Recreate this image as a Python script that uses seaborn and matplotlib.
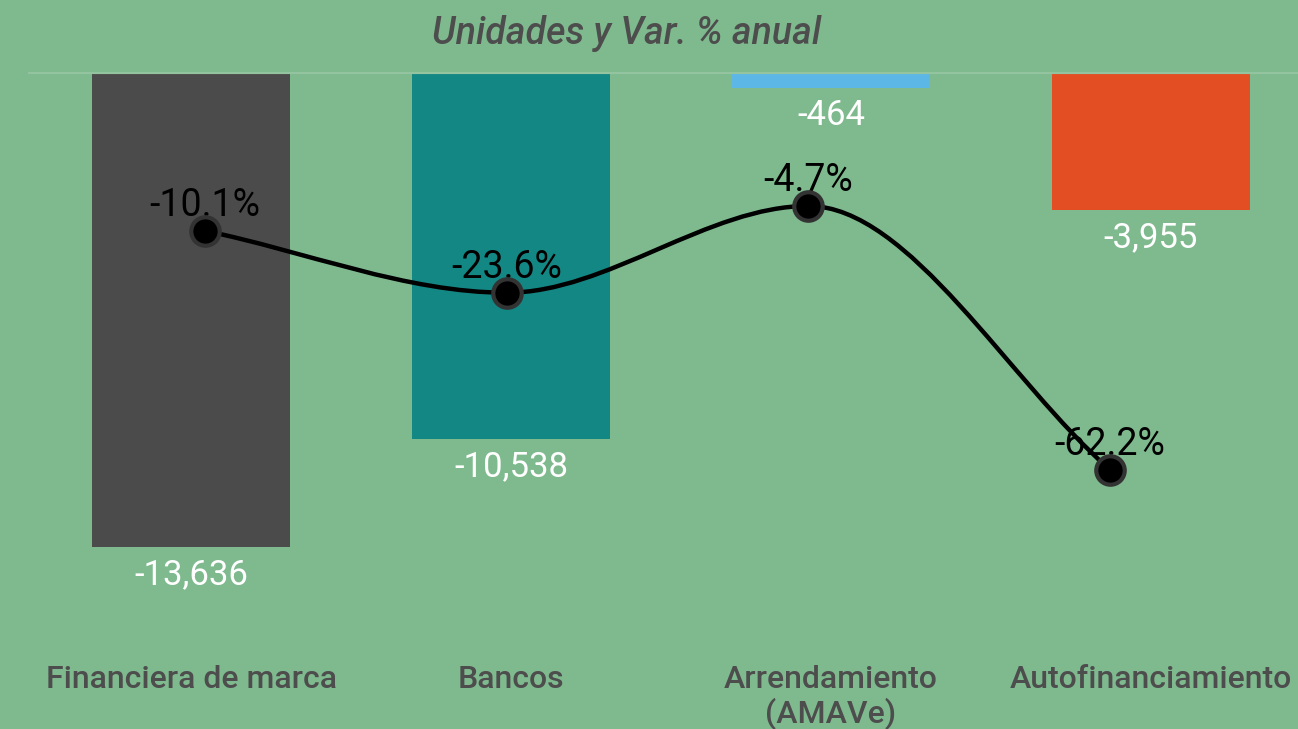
import numpy as np
import pandas as pd
import matplotlib
matplotlib.use("Agg")
import matplotlib.pyplot as plt
from matplotlib.path import Path
from matplotlib.patches import PathPatch
import seaborn as sns

# data
categorias = ["Financiera de marca", "Bancos", "Arrendamiento\n(AMAVe)", "Autofinanciamiento"]
unidades = [-13636, -10538, -464, -3955]
var_anual = [-10.1, -23.6, -4.7, -62.2]
colores = ["#4b4b4b", "#138784", "#5db7e6", "#e44e23"]
subtitulo = "Unidades y Var. % anual"

bg = "#7fba8f"
sns.set_theme(style="white")
plt.rcParams["font.family"] = ["Roboto", "DejaVu Sans"]

fig = plt.figure(figsize=(12.98, 7.29), dpi=100, facecolor=bg)
W, H = 1298, 729
# axes from px 28..1298 horizontally, 72..650 vertically
rect = [28 / W, 1 - 650 / H, 1270 / W, (650 - 72) / H]
ax = fig.add_axes(rect)
ax.set_facecolor(bg)

df = pd.DataFrame({"cat": categorias, "val": unidades})
sns.barplot(data=df, x="cat", y="val", hue="cat", palette=colores,
            width=0.62, legend=False, ax=ax, saturation=1, linewidth=0)
ax.set_xlim((28 - 191) / 320, (1298 - 191) / 320)
ax.set_ylim(-578 / 0.03484, 0)
ax.axhline(0, color="#93c49f", lw=3, zorder=5)
for s in ax.spines.values():
    s.set_visible(False)
ax.set_yticks([])
ax.set_xlabel("")
ax.set_ylabel("")
ax.tick_params(axis="x", length=0, pad=10.5)
for lab in ax.get_xticklabels():
    lab.set_fontsize(23)
    lab.set_fontweight("medium")
    lab.set_color("#4d4d4d")
    lab.set_va("top")
    lab.set_linespacing(1.15)

for i, v in enumerate(unidades):
    ax.annotate(f"{v:,}", (i, v), xytext=(0, -20), textcoords="offset points",
                ha="center", va="center", color="white", fontsize=25)

# overlay for the line (own x scale)
ax2 = fig.add_axes(rect)
ax2.patch.set_alpha(0)
ax2.set_xlim((28 - 205) / 301.7, (1298 - 205) / 301.7)
ax2.set_ylim(-(650 - 184.4) / 4.59, (184.4 - 72) / 4.59)
ax2.axis("off")

x = np.arange(len(var_anual), dtype=float)
y = np.array(var_anual)
d = np.diff(y) / np.diff(x)
m = np.zeros_like(y)
m[0], m[-1] = d[0], d[-1]
for k in range(1, len(y) - 1):
    if d[k - 1] * d[k] > 0:
        m[k] = (d[k - 1] + d[k]) / 2
verts = [(x[0], y[0])]
codes = [Path.MOVETO]
for k in range(len(y) - 1):
    h = x[k + 1] - x[k]
    verts += [(x[k] + h / 3, y[k] + m[k] * h / 3),
              (x[k + 1] - h / 3, y[k + 1] - m[k + 1] * h / 3),
              (x[k + 1], y[k + 1])]
    codes += [Path.CURVE4] * 3
ax2.add_patch(PathPatch(Path(verts, codes), fill=False, lw=3.2,
                        edgecolor="black", zorder=6))
sns.scatterplot(x=x, y=y, ax=ax2, s=420, color="black", edgecolor="#333333",
                linewidth=3, zorder=7, legend=False)
for xi, yi in zip(x, y):
    ax2.annotate(f"{yi:.1f}%", (xi, yi), xytext=(0, 18), textcoords="offset points",
                 ha="center", va="center", color="black", fontsize=27, zorder=4)

fig.text(627 / W, 1 - 33 / H, subtitulo, ha="center", va="center",
         fontsize=27, style="italic", fontweight="medium", color="#4d4d4d")

fig.savefig("out.png", dpi=100, facecolor=bg)
